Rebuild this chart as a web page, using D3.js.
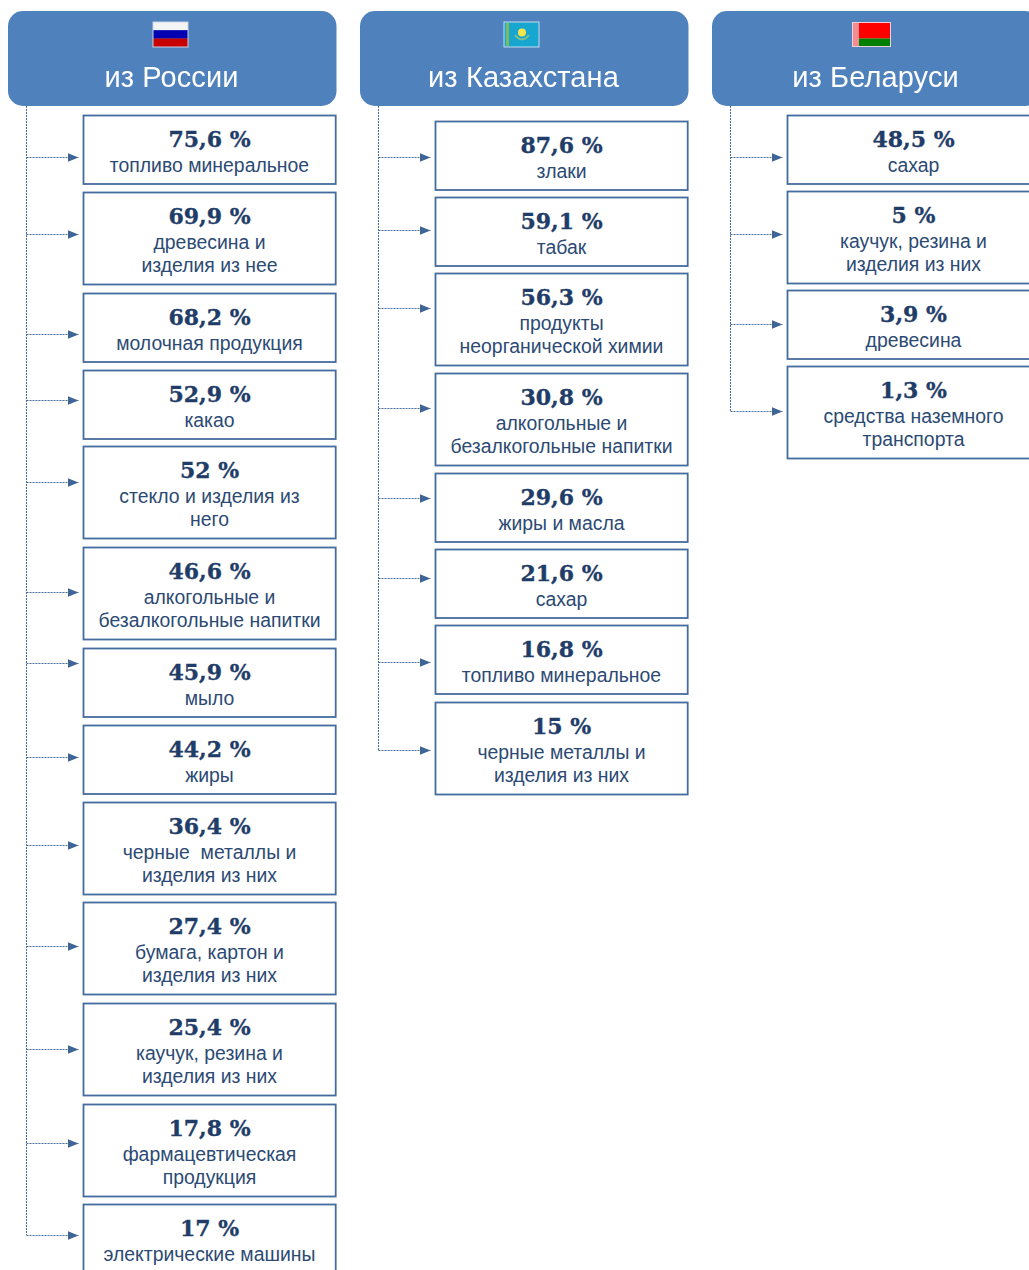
<!DOCTYPE html>
<html><head><meta charset="utf-8">
<script src="https://cdn.jsdelivr.net/npm/d3@7"></script>
<style>html,body{margin:0;padding:0;background:#fff;overflow:hidden}svg{display:block;filter:blur(0.35px)}</style>
</head><body><div id="c"></div>
<script>
// data
const panelTitles = ["из России", "из Казахстана", "из Беларуси"];
const russiaValues = ["75,6","69,9","68,2","52,9","52","46,6","45,9","44,2","36,4","27,4","25,4","17,8","17"];
const russiaLabels = [["топливо минеральное"],["древесина и","изделия из нее"],["молочная продукция"],["какао"],["стекло и изделия из","него"],["алкогольные и","безалкогольные напитки"],["мыло"],["жиры"],["черные  металлы и","изделия из них"],["бумага, картон и","изделия из них"],["каучук, резина и","изделия из них"],["фармацевтическая","продукция"],["электрические машины"]];
const kazakhValues = ["87,6","59,1","56,3","30,8","29,6","21,6","16,8","15"];
const kazakhLabels = [["злаки"],["табак"],["продукты","неорганической химии"],["алкогольные и","безалкогольные напитки"],["жиры и масла"],["сахар"],["топливо минеральное"],["черные металлы и","изделия из них"]];
const belarusValues = ["48,5","5","3,9","1,3"];
const belarusLabels = [["сахар"],["каучук, резина и","изделия из них"],["древесина"],["средства наземного","транспорта"]];

// layout (page furniture, separate from the data)
const W = 1029, H = 1270;
const panelX = d3.scaleLinear().domain([0, 2]).range([8, 712]);
const layouts = [
  {top:115, one:76.9, two:100.7, arrows:[157,234,334,400,482,592,663,757,845,946,1049,1143,1235]},
  {top:121, one:76.1, two:100, arrows:[157,230,308,408,498,578,662,750]},
  {top:115, one:76, two:99.3, arrows:[157,234,324,411]}
];
const panels = [
  {values:russiaValues, labels:russiaLabels},
  {values:kazakhValues, labels:kazakhLabels},
  {values:belarusValues, labels:belarusLabels}
];
const flags = [
  {x:145, w:35, stripes:[["#f4f4f6",.33],["#0000b0",.33],["#c80000",.34]]},
  {x:144, w:35, kz:true},
  {x:140, w:39, by:true}
];
const NAVY = "#1f3d68", BODY = "#2c4a73", LINE = "#456c9e", HEAD = "#4f81bd";

const svg = d3.select("#c").append("svg").attr("width", W).attr("height", H);
const defs = svg.append("defs");
defs.append("marker").attr("id","ah").attr("viewBox","0 0 11 9").attr("refX",11).attr("refY",4.5)
  .attr("markerWidth",11).attr("markerHeight",9).attr("markerUnits","userSpaceOnUse").attr("orient","auto")
  .append("path").attr("d","M0,0L11,4.5L0,9Z").attr("fill","#3f6496");

panels.forEach((p, i) => {
  const x0 = panelX(i), L = layouts[i];
  const g = svg.append("g").attr("transform", `translate(${x0},0)`);
  // vertical positions from number of lines in each label
  const tops = [];
  p.labels.reduce((y, l) => { tops.push(Math.round(y)); return y + (l.length > 1 ? L.two : L.one); }, L.top);
  const rows = p.values.map((v, k) => ({v, lines:p.labels[k], top:tops[k], arrow:L.arrows[k]}));

  g.append("rect").attr("x",0).attr("y",11).attr("width",328.5).attr("height",95).attr("rx",15).attr("fill",HEAD);
  g.append("text").attr("x",163.5).attr("y",87).attr("text-anchor","middle")
    .attr("font-family","Liberation Sans").attr("font-size",29).attr("letter-spacing",.1).attr("fill","#fff").text(panelTitles[i]);

  // flag
  const f = flags[i], fg = g.append("g").attr("transform",`translate(${f.x},22)`);
  if (f.stripes) {
    let sy = 0;
    f.stripes.forEach(s => { fg.append("rect").attr("y",sy).attr("width",f.w).attr("height",25*s[1]).attr("fill",s[0]); sy += 25*s[1]; });
    fg.append("rect").attr("width",f.w).attr("height",25).attr("fill","none").attr("stroke","#c9d3e6");
  } else if (f.kz) {
    fg.append("rect").attr("width",f.w).attr("height",25).attr("fill","#16a6cf").attr("stroke","#c9d9ee");
    fg.append("rect").attr("x",2).attr("y",1).attr("width",3).attr("height",23).attr("fill","#7dbb5e");
    fg.append("circle").attr("cx",18).attr("cy",10.5).attr("r",4).attr("fill","#f4e64a");
    fg.append("path").attr("d","M11,13Q18,22 25,13").attr("fill","none").attr("stroke","#7fc08a").attr("stroke-width",2);
  } else {
    fg.append("rect").attr("width",f.w).attr("height",25).attr("fill","#f0d0d4");
    fg.append("rect").attr("x",1).attr("y",1).attr("width",6).attr("height",23).attr("fill","#f58c92");
    fg.append("rect").attr("x",7).attr("y",1).attr("width",31).attr("height",15.5).attr("fill","#ff0000");
    fg.append("rect").attr("x",7).attr("y",16.5).attr("width",31).attr("height",7.5).attr("fill","#008000");
  }

  // connectors
  const spineX = 18.5;
  g.append("line").attr("x1",spineX).attr("x2",spineX).attr("y1",106).attr("y2",d3.max(L.arrows))
    .attr("stroke",LINE).attr("stroke-width",1).attr("stroke-dasharray","2 1");
  g.selectAll("line.arm").data(rows).join("line").attr("class","arm")
    .attr("x1",spineX).attr("x2",70.5).attr("y1",d=>d.arrow+.5).attr("y2",d=>d.arrow+.5)
    .attr("stroke",LINE).attr("stroke-width",1).attr("stroke-dasharray","2 1").attr("marker-end","url(#ah)");

  // boxes
  const box = g.selectAll("g.box").data(rows).join("g").attr("class","box")
    .attr("transform", d => `translate(75,${d.top})`);
  box.append("rect").attr("x",.5).attr("y",.5).attr("width",252.2).attr("height",d=>d.lines.length>1?92:68.5)
    .attr("fill","#fff").attr("stroke",LINE).attr("stroke-width",1.8);
  const cx = 126.5;
  box.append("text").attr("x",cx).attr("y",31.6).attr("text-anchor","middle")
    .attr("font-family","DejaVu Serif").attr("font-weight","bold").attr("font-size",22).attr("fill",NAVY)
    .attr("stroke",NAVY).attr("stroke-width",.35)
    .attr("xml:space","preserve").text(d => d.v + " %");
  box.each(function(d){
    d3.select(this).selectAll("text.l").data(d.lines).join("text").attr("class","l")
      .attr("x",cx).attr("y",(t,n)=>56.5+n*23).attr("text-anchor","middle")
      .attr("font-family","Liberation Sans").attr("font-size",19.4).attr("fill",BODY)
      .style("white-space","pre").text(t=>t);
  });
});
</script></body></html>
